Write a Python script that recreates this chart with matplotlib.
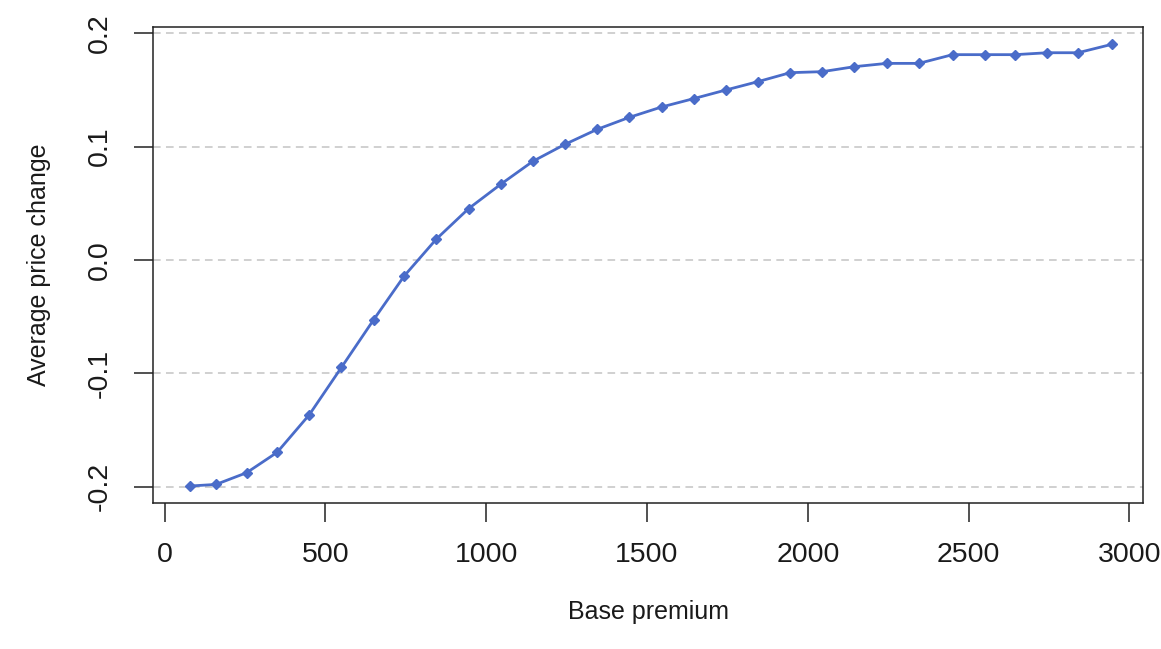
import matplotlib
matplotlib.use("Agg")
import matplotlib.pyplot as plt

plt.rcParams["font.family"] = ["Liberation Sans", "DejaVu Sans"]

# average price change by base premium bucket
base_premium = [80, 160, 255, 350, 450, 550, 650, 745, 845, 945,
                1045, 1145, 1245, 1345, 1445, 1545, 1645, 1745, 1845, 1945,
                2045, 2145, 2245, 2345, 2450, 2550, 2645, 2745, 2840, 2945]
price_change = [-0.1994, -0.1980, -0.1877, -0.1697, -0.1365, -0.0947, -0.0527, -0.0141, 0.0185, 0.0453,
                0.0668, 0.0871, 0.1021, 0.1153, 0.1259, 0.1350, 0.1424, 0.1500, 0.1574, 0.1653,
                0.1662, 0.1706, 0.1735, 0.1735, 0.1812, 0.1812, 0.1812, 0.1829, 0.1829, 0.1903]

xticks = [0, 500, 1000, 1500, 2000, 2500, 3000]
yticks = [-0.2, -0.1, 0.0, 0.1, 0.2]
ytick_labels = ["-0.2", "-0.1", "0.0", "0.1", "0.2"]

W, H = 1161, 649
fig = plt.figure(figsize=(W / 100, H / 100), dpi=100)
ax = fig.add_axes([153 / W, 1 - 503 / H, (1143 - 153) / W, (503 - 27) / H])

for y in yticks:
    ax.axhline(y, color="#c4c4c4", lw=1.1, linestyle=(0, (5, 3.5)), zorder=1)

ax.plot(base_premium, price_change, color="#4a6cc9", lw=2.0,
        marker="D", markersize=4.8, zorder=3)

ax.set_xlim(-36, 3042)
ax.set_ylim(-0.2144, 0.2056)
ax.set_xticks(xticks)
ax.set_xticklabels([str(v) for v in xticks])
ax.set_yticks(yticks)
ax.set_yticklabels(ytick_labels, rotation=90, va="center")

for s in ax.spines.values():
    s.set_linewidth(1.1)
    s.set_color("#222222")
ax.tick_params(axis="both", direction="out", length=14, width=1.1,
               color="#222222", labelsize=20.5, labelcolor="#1a1a1a")
ax.tick_params(axis="x", pad=14)
ax.tick_params(axis="y", pad=14.8)

ax.set_xlabel("Base premium", fontsize=18, color="#1a1a1a")
ax.set_ylabel("Average price change", fontsize=18, color="#1a1a1a")
ax.xaxis.set_label_coords(0.5, -0.203)
ax.yaxis.set_label_coords(-0.103, 0.5)

fig.savefig("out.png", dpi=100)
